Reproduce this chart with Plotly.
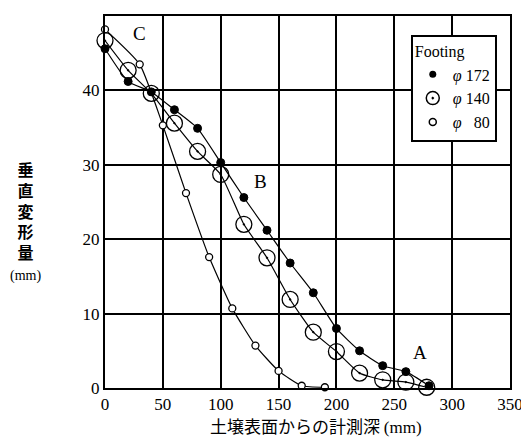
import plotly.graph_objects as go

# depth from soil surface (mm)
x172 = [0, 20, 40, 60, 80, 100, 120, 140, 160, 180, 200, 220, 240, 260, 280]
y172 = [45.6, 41.2, 39.8, 37.4, 34.9, 30.3, 25.6, 21.2, 16.8, 12.8, 8.0, 5.0, 3.0, 2.2, 0.3]

x140 = [0, 20, 40, 60, 80, 100, 120, 140, 160, 180, 200, 220, 240, 260, 278]
y140 = [46.7, 42.7, 39.6, 35.6, 31.8, 28.7, 22.0, 17.5, 11.9, 7.5, 4.9, 2.0, 1.1, 0.8, 0.1]

x80 = [0, 30, 50, 70, 90, 110, 130, 150, 170, 190]
y80 = [48.2, 43.5, 35.3, 26.2, 17.6, 10.7, 5.7, 2.3, 0.3, 0.1]

names = ["<i>φ</i> 172", "<i>φ</i> 140", "<i>φ</i>&nbsp;&nbsp;&nbsp;80"]
labels = [("C", 30, 47.6), ("B", 134, 27.8), ("A", 272, 4.8)]

SERIF = "Liberation Serif, DejaVu Serif, serif"
CJK = "Noto Sans CJK JP"

fig = go.Figure()

line = dict(color="black", width=1.2, shape="spline", smoothing=0.5)
fig.add_trace(go.Scatter(x=x80, y=y80, mode="lines+markers", line=line, showlegend=False,
                         marker=dict(symbol="circle", size=7, color="white",
                                     line=dict(color="black", width=1.3)), cliponaxis=False))
fig.add_trace(go.Scatter(x=x140, y=y140, mode="lines+markers", line=line, showlegend=False,
                         marker=dict(symbol="circle-dot", size=16, color="rgba(255,255,255,0)",
                                     line=dict(color="black", width=1.3)), cliponaxis=False))
fig.add_trace(go.Scatter(x=x172, y=y172, mode="lines+markers", line=line, showlegend=False,
                         marker=dict(symbol="circle", size=8, color="black",
                                     line=dict(color="black", width=1)), cliponaxis=False))

# legend-only entries
fig.add_trace(go.Scatter(x=[None], y=[None], mode="markers", name=names[0],
                         marker=dict(symbol="circle", size=7, color="black")))
fig.add_trace(go.Scatter(x=[None], y=[None], mode="markers", name=names[1],
                         marker=dict(symbol="circle-dot", size=13, color="white",
                                     line=dict(color="black", width=1.5))))
fig.add_trace(go.Scatter(x=[None], y=[None], mode="markers", name=names[2],
                         marker=dict(symbol="circle", size=7, color="white",
                                     line=dict(color="black", width=1.5))))

for t, lx, ly in labels:
    fig.add_annotation(x=lx, y=ly, text=t, showarrow=False,
                       font=dict(family=SERIF, size=19, color="black"))

fig.add_annotation(xref="paper", yref="paper", x=-0.197, y=0.45, xanchor="center", yanchor="middle",
                   text="<b>垂<br>直<br>変<br>形<br>量</b><br><span style='font-family:Liberation Serif;font-size:14px'>(mm)</span>",
                   showarrow=False, align="center",
                   font=dict(family=CJK, size=16, color="black"))

fig.add_annotation(xref="paper", yref="paper", x=0.52, y=-0.10, yanchor="middle",
                   text="土壌表面からの計測深 <span style='font-family:Liberation Serif'>(mm)</span>",
                   showarrow=False, font=dict(family=CJK, size=17, color="black"))

axis_common = dict(showline=True, linecolor="black", linewidth=2, mirror=True,
                   showgrid=True, gridcolor="black", gridwidth=1.5, zeroline=False,
                   tickfont=dict(family=SERIF, size=17, color="black"),
                   ticks="", )
fig.update_xaxes(range=[0, 350], dtick=50, **axis_common)
fig.update_yaxes(range=[0, 50], dtick=10, **axis_common)

# page body has an 8px default margin, so the figure is sized to fit the window
fig.update_layout(
    width=521, height=440,
    margin=dict(l=97, r=14, t=6, b=60),
    plot_bgcolor="white", paper_bgcolor="white",
    legend=dict(x=0.755, y=0.95, xanchor="left", yanchor="top",
                bgcolor="white", bordercolor="black", borderwidth=2,
                title=dict(text="Footing", font=dict(family=SERIF, size=16, color="black")),
                font=dict(family=SERIF, size=16, color="black"),
                itemwidth=30, tracegroupgap=0),
)

fig.write_html("out.html")
